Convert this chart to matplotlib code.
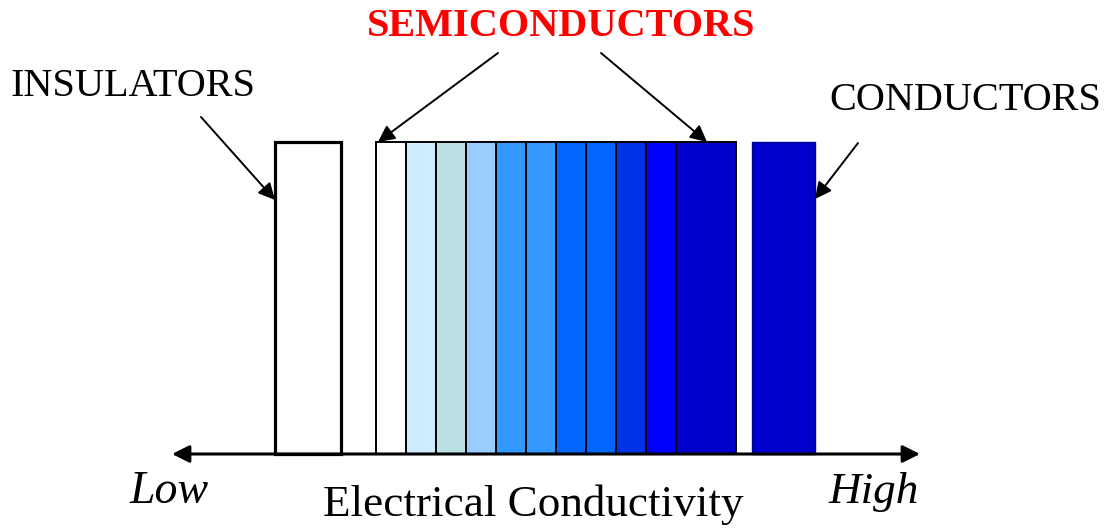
import matplotlib
matplotlib.use("Agg")
import matplotlib.pyplot as plt

# relative conductivity bars (all drawn to the same height)
insulator_height = 1.0
conductor_height = 1.0
semi_heights = [1, 1, 1, 1, 1, 1, 1, 1, 1, 1, 1]
semi_slots = [1, 1, 1, 1, 1, 1, 1, 1, 1, 1, 2]   # last band is twice as wide
semi_colors = ["#FFFFFF", "#CCECFF", "#BBE0E3", "#99CCFF", "#3399FF", "#3399FF",
               "#0066FF", "#0066FF", "#0033E6", "#0000FF", "#0000CC"]
conductor_color = "#0000CC"

group_labels = ["INSULATORS", "SEMICONDUCTORS", "CONDUCTORS"]
axis_label = "Electrical Conductivity"
low_label, high_label = "Low", "High"

plt.rcParams["font.family"] = ["Liberation Serif", "DejaVu Serif"]

fig = plt.figure(figsize=(11.04, 5.29), dpi=100)
ax = fig.add_axes([0, 0, 1, 1])
ax.set_xlim(0, 1104)
ax.set_ylim(529, 0)
ax.axis("off")

base = 454
scale = 312          # pixel height of a bar of height 1
slot = 30

# insulator
ax.bar(275, -insulator_height * scale, width=66, bottom=base, align="edge",
       color="white", edgecolor="black", linewidth=2.3, zorder=2)

# semiconductors
x = 376
semi_tops = []
for h, s, c in zip(semi_heights, semi_slots, semi_colors):
    ax.bar(x, -h * scale, width=s * slot, bottom=base, align="edge",
           color=c, edgecolor="black", linewidth=1.4, zorder=2)
    semi_tops.append((x, x + s * slot, base - h * scale))
    x += s * slot

# conductor
ax.bar(752, -conductor_height * scale, width=63, bottom=base, align="edge",
       color=conductor_color, edgecolor="#000088", linewidth=1.0, zorder=2)

# conductivity axis
ax.annotate("", xy=(172, base), xytext=(920, base),
            arrowprops=dict(arrowstyle="<|-|>", color="black", lw=2.2,
                            mutation_scale=26, shrinkA=0, shrinkB=0), zorder=3)

ax.text(130, 492, low_label, fontsize=33, style="italic", ha="left", va="center")
ax.text(919, 492, high_label, fontsize=32.5, style="italic", ha="right", va="center")
ax.text(533, 505, axis_label, fontsize=32.5, ha="center", va="center")

# labels and pointers
arrow = dict(arrowstyle="-|>", color="black", lw=1.4, mutation_scale=25,
             shrinkA=0, shrinkB=0)
ax.text(11, 87, group_labels[0], fontsize=29, ha="left", va="center")
ax.annotate("", xy=(275, 200), xytext=(201, 117), arrowprops=arrow)

ax.text(561, 26, group_labels[1], fontsize=29, fontweight="bold", color="#FF0000",
        ha="center", va="center")
ax.annotate("", xy=(semi_tops[0][0] + 2, semi_tops[0][2]), xytext=(498, 53), arrowprops=arrow)
ax.annotate("", xy=(707, semi_tops[-1][2]), xytext=(601, 53), arrowprops=arrow)

ax.text(1101, 101, group_labels[2], fontsize=29, ha="right", va="center")
ax.annotate("", xy=(815, 199), xytext=(858, 143), arrowprops=arrow)

fig.savefig("out.png", dpi=100)
